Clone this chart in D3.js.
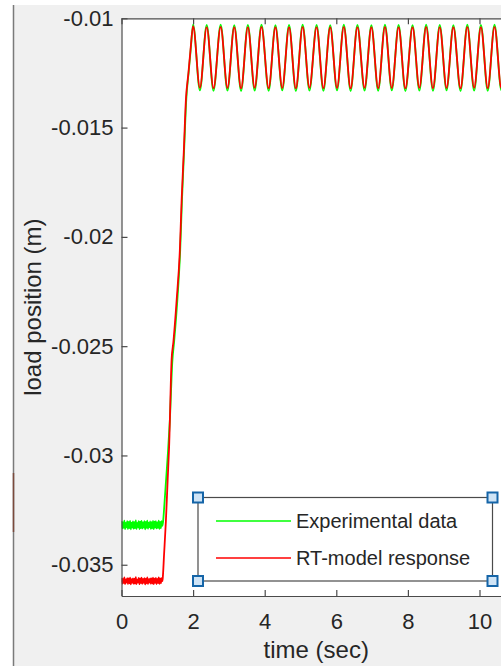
<!DOCTYPE html>
<html>
<head>
<meta charset="utf-8">
<script src="https://cdn.jsdelivr.net/npm/d3@7"></script>
<style>
  html, body { margin: 0; padding: 0; background: #fff; }
  svg { display: block; }
  text { font-family: "Liberation Sans", Arial, sans-serif; fill: #262626; }
</style>
</head>
<body>
<div id="chart"></div>
<script>
// ---- data ----
var xTicks = [0, 2, 4, 6, 8, 10];
var yTicks = [-0.035, -0.03, -0.025, -0.02, -0.015, -0.01];
var yTickLabels = ["-0.035", "-0.03", "-0.025", "-0.02", "-0.015", "-0.01"];
var seriesNames = ["Experimental data", "RT-model response"];

// flat (noisy) part before the step
var flatT = [0, 0.02, 0.04, 0.06, 0.08, 0.10, 0.12, 0.14, 0.16, 0.18, 0.20, 0.22, 0.24, 0.26, 0.28,
             0.30, 0.32, 0.34, 0.36, 0.38, 0.40, 0.42, 0.44, 0.46, 0.48, 0.50, 0.52, 0.54, 0.56, 0.58,
             0.60, 0.62, 0.64, 0.66, 0.68, 0.70, 0.72, 0.74, 0.76, 0.78, 0.80, 0.82, 0.84, 0.86, 0.88,
             0.90, 0.92, 0.94, 0.96, 0.98, 1.00, 1.02, 1.04, 1.06, 1.08, 1.10, 1.12, 1.14];
var expFlat = [-0.03300, -0.03334, -0.03306, -0.03331, -0.03298, -0.03337, -0.03309, -0.03329, -0.03301, -0.03336,
               -0.03304, -0.03332, -0.03299, -0.03338, -0.03307, -0.03330, -0.03302, -0.03335, -0.03305, -0.03333,
               -0.03297, -0.03336, -0.03308, -0.03328, -0.03300, -0.03337, -0.03303, -0.03332, -0.03299, -0.03334,
               -0.03306, -0.03330, -0.03301, -0.03338, -0.03304, -0.03331, -0.03298, -0.03335, -0.03307, -0.03329,
               -0.03302, -0.03336, -0.03305, -0.03333, -0.03299, -0.03337, -0.03303, -0.03330, -0.03300, -0.03334,
               -0.03306, -0.03331, -0.03298, -0.03336, -0.03304, -0.03332, -0.03301, -0.03322];
var rtFlat = [-0.03560, -0.03587, -0.03565, -0.03584, -0.03558, -0.03589, -0.03567, -0.03582, -0.03561, -0.03588,
              -0.03563, -0.03585, -0.03559, -0.03590, -0.03566, -0.03583, -0.03562, -0.03587, -0.03564, -0.03586,
              -0.03557, -0.03588, -0.03568, -0.03581, -0.03560, -0.03589, -0.03563, -0.03584, -0.03559, -0.03587,
              -0.03565, -0.03583, -0.03561, -0.03590, -0.03564, -0.03585, -0.03558, -0.03588, -0.03566, -0.03582,
              -0.03562, -0.03587, -0.03563, -0.03586, -0.03559, -0.03589, -0.03564, -0.03583, -0.03560, -0.03588,
              -0.03565, -0.03584, -0.03558, -0.03587, -0.03563, -0.03585, -0.03561, -0.03575];

// the step
var expRiseT = [1.16, 1.20, 1.25, 1.30, 1.35, 1.42, 1.47, 1.56, 1.64, 1.69, 1.75, 1.81, 1.88, 1.94];
var expRise = [-0.03305, -0.0322, -0.0310, -0.0298, -0.0284, -0.0257, -0.0248, -0.0229, -0.0206, -0.0183, -0.0160, -0.0137, -0.0124, -0.0113];
var rtRiseT = [1.15, 1.19, 1.24, 1.29, 1.33, 1.40, 1.45, 1.54, 1.63, 1.68, 1.74, 1.80, 1.87, 1.93];
var rtRise = [-0.03565, -0.0345, -0.0330, -0.0311, -0.0296, -0.0256, -0.0248, -0.0229, -0.0206, -0.0183, -0.0161, -0.0137, -0.0125, -0.0114];

// oscillation: peaks and troughs
var oscT = [2.00, 2.19, 2.38, 2.57, 2.77, 2.96, 3.15, 3.34, 3.53, 3.72, 3.91, 4.11, 4.30, 4.49, 4.68, 4.87,
            5.06, 5.25, 5.45, 5.64, 5.83, 6.02, 6.21, 6.40, 6.59, 6.79, 6.98, 7.17, 7.36, 7.55, 7.74, 7.93,
            8.13, 8.32, 8.51, 8.70, 8.89, 9.08, 9.27, 9.47, 9.66, 9.85, 10.04, 10.23, 10.42, 10.61, 10.81, 11.00];
var expOsc = [-0.01028, -0.01330, -0.01030, -0.01332, -0.01029, -0.01331, -0.01031, -0.01333, -0.01030, -0.01331, -0.01029, -0.01332,
              -0.01031, -0.01330, -0.01030, -0.01333, -0.01029, -0.01331, -0.01030, -0.01332, -0.01031, -0.01330, -0.01029, -0.01333,
              -0.01030, -0.01331, -0.01031, -0.01332, -0.01029, -0.01330, -0.01030, -0.01333, -0.01031, -0.01331, -0.01029, -0.01332,
              -0.01030, -0.01330, -0.01031, -0.01333, -0.01029, -0.01331, -0.01030, -0.01332, -0.01029, -0.01330, -0.01031, -0.01331];
var rtOsc = [-0.01036, -0.01318, -0.01040, -0.01320, -0.01039, -0.01319, -0.01041, -0.01321, -0.01040, -0.01318, -0.01039, -0.01320,
             -0.01041, -0.01319, -0.01040, -0.01321, -0.01039, -0.01318, -0.01040, -0.01320, -0.01041, -0.01319, -0.01039, -0.01321,
             -0.01040, -0.01318, -0.01041, -0.01320, -0.01039, -0.01319, -0.01040, -0.01321, -0.01041, -0.01318, -0.01039, -0.01320,
             -0.01040, -0.01319, -0.01041, -0.01321, -0.01039, -0.01318, -0.01040, -0.01320, -0.01039, -0.01319, -0.01041, -0.01318];

// ---- layout ----
var W = 501, H = 666;
var plotL = 121.5, plotR = 511, plotT = 18.3, plotB = 596;
var green = "#00ff00", red = "#ff0000", axisColor = "#4a4a4a";

var svg = d3.select("#chart").append("svg")
            .attr("width", W)
            .attr("height", H);

// figure window background and its border
svg.append("rect").attr("x", 0).attr("y", 0).attr("width", W).attr("height", H).attr("fill", "#ffffff");
svg.append("rect").attr("x", 14).attr("y", 5).attr("width", W - 14).attr("height", H - 5).attr("fill", "#f0f0f0");
svg.append("line").attr("x1", 13.5).attr("x2", 13.5).attr("y1", 5).attr("y2", H)
   .attr("stroke", "#7a7a7a").attr("stroke-width", 1.5);
svg.append("line").attr("x1", 13.5).attr("x2", 13.5).attr("y1", 473).attr("y2", 532)
   .attr("stroke", "#7b4a3c").attr("stroke-width", 1.5);

var x = d3.scaleLinear().domain([0, 10.88]).range([plotL, plotR]);
var y = d3.scaleLinear().domain([-0.03643, -0.01]).range([plotB, plotT]);

// plot area
svg.append("rect").attr("x", plotL).attr("y", plotT)
   .attr("width", plotR - plotL).attr("height", plotB - plotT).attr("fill", "#ffffff");

svg.append("clipPath").attr("id", "clip")
   .append("rect").attr("x", plotL).attr("y", plotT)
   .attr("width", plotR - plotL).attr("height", plotB - plotT);

function buildSeries(t1, v1, t2, v2, t3, v3) {
  var pts = [];
  t1.forEach(function (t, i) { pts.push([t, v1[i]]); });
  t2.forEach(function (t, i) { if (t > pts[pts.length - 1][0]) pts.push([t, v2[i]]); });
  t3.forEach(function (t, i) { pts.push([t, v3[i]]); });
  return pts;
}
var expData = buildSeries(flatT, expFlat, expRiseT, expRise, oscT, expOsc);
var rtData = buildSeries(flatT, rtFlat, rtRiseT, rtRise, oscT, rtOsc);

var valueLine = d3.line()
                  .x(function (d) { return x(d[0]); })
                  .y(function (d) { return y(d[1]); })
                  .curve(d3.curveMonotoneX);

var lines = svg.append("g").attr("clip-path", "url(#clip)");
lines.append("path").datum(expData)
     .attr("d", valueLine).attr("fill", "none")
     .attr("stroke", green).attr("stroke-width", 1.8);
lines.append("path").datum(rtData)
     .attr("d", valueLine).attr("fill", "none")
     .attr("stroke", red).attr("stroke-width", 1.8);

// axes
var xAxis = svg.append("g").attr("transform", "translate(0," + plotB + ")")
               .call(d3.axisBottom(x).tickValues(xTicks).tickSize(-6).tickSizeOuter(0).tickPadding(17));
var xTop = svg.append("g").attr("transform", "translate(0," + plotT + ")")
              .call(d3.axisTop(x).tickValues(xTicks).tickSize(-6).tickSizeOuter(0).tickFormat(""));
var yAxis = svg.append("g").attr("transform", "translate(" + plotL + ",0)")
               .call(d3.axisLeft(y).tickValues(yTicks).tickSize(-6).tickSizeOuter(0).tickPadding(8)
                       .tickFormat(function (d, i) { return yTickLabels[i]; }));

[xAxis, xTop, yAxis].forEach(function (g) {
  g.selectAll("path.domain").attr("stroke", axisColor).attr("stroke-width", 1.2);
  g.selectAll(".tick line").attr("stroke", axisColor).attr("stroke-width", 1.2);
  g.selectAll("text").attr("font-size", 22).attr("fill", "#262626")
   .attr("font-family", "Liberation Sans, Arial, sans-serif");
});

// axis labels
svg.append("text").attr("x", (plotL + plotR) / 2).attr("y", 658)
   .attr("text-anchor", "middle").attr("font-size", 24).text("time (sec)");
svg.append("text").attr("transform", "translate(41," + (plotT + plotB) / 2 + ") rotate(-90)")
   .attr("text-anchor", "middle").attr("font-size", 24).text("load position (m)");

// legend
var lg = { x0: 198, y0: 497.5, x1: 492.5, y1: 581 };
svg.append("rect").attr("x", lg.x0).attr("y", lg.y0)
   .attr("width", lg.x1 - lg.x0).attr("height", lg.y1 - lg.y0)
   .attr("fill", "#ffffff").attr("stroke", axisColor).attr("stroke-width", 1.2);
var legendColors = [green, red];
var legendY = [521, 558];
seriesNames.forEach(function (name, i) {
  svg.append("line").attr("x1", 216).attr("x2", 291).attr("y1", legendY[i]).attr("y2", legendY[i])
     .style("stroke", legendColors[i]).attr("stroke-width", 1.4);
  svg.append("text").attr("x", 296).attr("y", legendY[i]).attr("dy", "0.35em")
     .attr("font-size", 20).text(name);
});
// selection handles at the legend corners
[[lg.x0, lg.y0], [lg.x1, lg.y0], [lg.x0, lg.y1], [lg.x1, lg.y1]].forEach(function (c) {
  svg.append("rect").attr("x", c[0] - 5).attr("y", c[1] - 5).attr("width", 10).attr("height", 10)
     .attr("fill", "#cfe4f6").attr("stroke", "#1565a8").attr("stroke-width", 2);
});
</script>
</body>
</html>
